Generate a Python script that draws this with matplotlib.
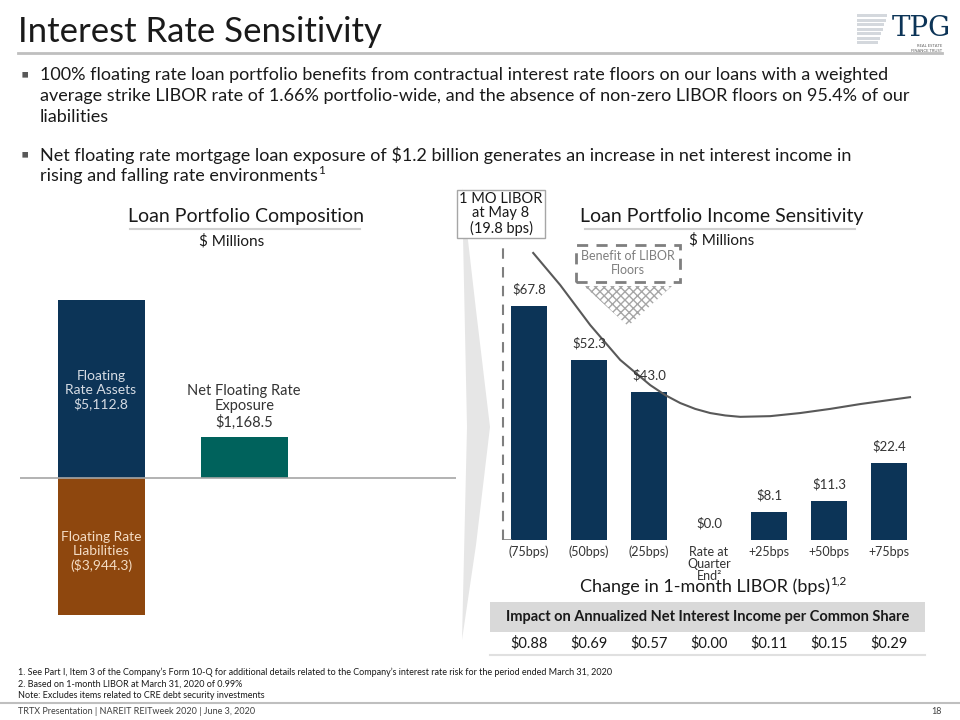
import numpy as np
import matplotlib.pyplot as plt
from matplotlib.patches import Rectangle, Polygon
from matplotlib.transforms import blended_transform_factory

plt.rcParams['font.family'] = ['Lato', 'DejaVu Sans']
plt.rcParams['hatch.color'] = "#a6a6a6"

# left chart data ($ millions)
comp_labels = ["Floating\nRate Assets\n$5,112.8", "Floating Rate\nLiabilities\n($3,944.3)",
               "Net Floating Rate\nExposure\n$1,168.5"]
assets = 5112.8
liabilities = -3944.3
net_exposure = 1168.5

# right chart data
rate_labels = ["(75bps)", "(50bps)", "(25bps)", "Rate at\nQuarter\nEnd\u00b2", "+25bps", "+50bps", "+75bps"]
income = [67.8, 52.3, 43.0, 0.0, 8.1, 11.3, 22.4]
income_labels = ["$67.8", "$52.3", "$43.0", "$0.0", "$8.1", "$11.3", "$22.4"]
per_share = ["$0.88", "$0.69", "$0.57", "$0.00", "$0.11", "$0.15", "$0.29"]

# curve (x in bar positions, y in $ millions)
curve_x = [0.07, 0.52, 1.02, 1.52, 2.02, 2.27, 2.52, 2.77, 3.02, 3.27, 3.52, 4.02, 4.52, 5.02, 5.52, 6.02, 6.35]
curve_y = [83.2, 73.9, 62.3, 52.2, 44.9, 42.0, 39.7, 38.0, 36.8, 36.1, 35.7, 35.9, 36.8, 38.0, 39.4, 40.6, 41.4]

navy = "#0c3457"
teal = "#00625c"
brown = "#8e470e"
gray_txt = "#333333"

fig = plt.figure(figsize=(9.6, 7.2), dpi=100)


def fx(px):
    return px / 960


def fy(py):
    return 1 - py / 720


# header
fig.text(fx(18), fy(32), "Interest Rate Sensitivity", fontsize=25, color="#1a1a1a", va="center")
fig.add_artist(plt.Line2D([fx(18), fx(942)], [fy(53), fy(53)], color="#bfbfbf", lw=2))

# logo
for i in range(7):
    w = 30 - i * 1.5
    fig.add_artist(Rectangle((fx(857), fy(14 + i * 4.5 + 3)), fx(w), 3 / 720, color="#d4d8dd", lw=0))
fig.text(fx(892), fy(36), "TPG", fontsize=20, family="DejaVu Serif", color=navy, va="baseline")
fig.text(fx(942), fy(46), "REAL ESTATE", fontsize=3, color="#606060", ha="right", va="center")
fig.text(fx(942), fy(50.5), "FINANCE TRUST", fontsize=3, color="#606060", ha="right", va="center")

# bullets
bullets = [
    (75, "100% floating rate loan portfolio benefits from contractual interest rate floors on our loans with a weighted"),
    (96, "average strike LIBOR rate of 1.66% portfolio-wide, and the absence of non-zero LIBOR floors on 95.4% of our"),
    (117, "liabilities"),
    (155, "Net floating rate mortgage loan exposure of \\$1.2 billion generates an increase in net interest income in"),
    (176, "rising and falling rate environments"),
]
for py, txt in bullets:
    t = fig.text(fx(40), fy(py), txt, fontsize=13, color="#1a1a1a", va="center")
for py in (75, 155):
    fig.text(fx(21), fy(py), "\u25aa", fontsize=15, color="#595959", va="center")

renderer = fig.canvas.get_renderer()
bb = t.get_window_extent(renderer)
fig.text(bb.x1 / 960, fy(170), "1", fontsize=8.5, color="#1a1a1a", va="center")

# section titles
fig.text(fx(246), fy(216), "Loan Portfolio Composition", fontsize=14, color="#1a1a1a", ha="center", va="center")
fig.add_artist(plt.Line2D([fx(130), fx(360)], [fy(229), fy(229)], color="#d0d0d0", lw=1.5))
fig.text(fx(232), fy(241), "$ Millions", fontsize=11, color="#1a1a1a", ha="center", va="center")
fig.text(fx(722), fy(216), "Loan Portfolio Income Sensitivity", fontsize=14, color="#1a1a1a", ha="center", va="center")
fig.add_artist(plt.Line2D([fx(585), fx(855)], [fy(229), fy(229)], color="#d0d0d0", lw=1.5))
fig.text(fx(722), fy(240), "$ Millions", fontsize=11, color="#1a1a1a", ha="center", va="center")

# funnel shading
fig.add_artist(Polygon([(fx(462), fy(188)), (fx(476), fy(310)), (fx(490), fy(427)), (fx(476), fy(545)),
                        (fx(462), fy(640)), (fx(467), fy(427))], closed=True, color="#e6e6e6", lw=0))

# left chart
ax1 = fig.add_axes([fx(20), fy(630), fx(436), (630 - 290) / 720])
scale = assets / 178
ax1.set_ylim(-(630 - 478) * scale, (478 - 290) * scale)
ax1.set_xlim(-0.566, 2.48)
ax1.bar([0], [assets], width=0.608, color=navy)
ax1.bar([0], [liabilities], width=0.608, color=brown)
ax1.bar([1], [net_exposure], width=0.608, color=teal)
ax1.axhline(0, color="#a6a6a6", lw=1.2)
ax1.text(0, 2525, comp_labels[0], ha="center", va="center", fontsize=10, color="#d6dce4", linespacing=1.2)
ax1.text(0, -2100, comp_labels[1], ha="center", va="center", fontsize=10, color="#f4dcc4", linespacing=1.2)
ax1.text(1, net_exposure + 200, comp_labels[2], ha="center", va="bottom", fontsize=10.5, color=gray_txt,
         linespacing=1.15)
ax1.axis("off")

# right chart
ax2 = fig.add_axes([fx(495), fy(540), fx(430), (540 - 240) / 720])
ax2.set_ylim(0, (540 - 240) / 3.45)
ax2.set_xlim(-0.567, 6.6)
x = np.arange(len(income))
ax2.bar(x, income, width=0.6, color=navy)
for xi, v, lab in zip(x, income, income_labels):
    ax2.text(xi, v + 3, lab, ha="center", va="bottom", fontsize=9.5, color=gray_txt)
ax2.plot(curve_x, curve_y, color="#595959", lw=1.5, solid_joinstyle="round")
ax2.plot([-0.43, -0.43], [0, 86], color="#7f7f7f", lw=1.5, ls=(0, (5, 4)))
ax2.plot([-0.43, -0.3], [0, 0], color="#7f7f7f", lw=1.2)
ax2.set_xticks(x)
ax2.set_xticklabels(rate_labels, fontsize=9, color=gray_txt, va="top", linespacing=1.0)
ax2.tick_params(length=0, pad=4)
ax2.set_yticks([])
for s in ax2.spines.values():
    s.set_visible(False)

ct = fig.text(fx(705), fy(587), "Change in 1-month LIBOR (bps)", fontsize=13, color="#1a1a1a",
              ha="center", va="center")
bb = ct.get_window_extent(renderer)
fig.text(bb.x1 / 960, fy(581), "1,2", fontsize=8.5, color="#1a1a1a", va="center")

# LIBOR box
fig.text(fx(501), fy(214), "1 MO LIBOR\nat May 8\n(19.8 bps)", fontsize=10.5, color="#1a1a1a", ha="center",
         va="center", linespacing=1.05,
         bbox=dict(boxstyle="square,pad=0.15", fc="white", ec="#a6a6a6", lw=1))

# benefit of floors box + triangle
fig.add_artist(Rectangle((fx(576), fy(282)), fx(104), 37 / 720, fill=False, ec="#7f7f7f", lw=2,
                         ls=(0, (4, 3))))
fig.text(fx(628), fy(263), "Benefit of LIBOR\nFloors", fontsize=9, color="#7f7f7f", ha="center",
         va="center", linespacing=1.1)
fig.add_artist(Polygon([(fx(584), fy(286)), (fx(672), fy(286)), (fx(628), fy(326))], closed=True,
                       fc="white", ec="#a6a6a6", lw=0, hatch="xxxx"))

# table
fig.add_artist(Rectangle((fx(490), fy(632)), fx(435), 30 / 720, color="#d9d9d9", lw=0))
fig.text(fx(708), fy(617), "Impact on Annualized Net Interest Income per Common Share", fontsize=10.5,
         weight="bold", color="#1a1a1a", ha="center", va="center")
fig.add_artist(plt.Line2D([fx(490), fx(925)], [fy(655), fy(655)], color="#e0e0e0", lw=1.5))
tr = blended_transform_factory(ax2.transData, fig.transFigure)
for xi, s in zip(x, per_share):
    ax2.text(xi, fy(643), s, transform=tr, ha="center", va="center", fontsize=10.5, color="#1a1a1a")

# footnotes
notes = ["1. See Part I, Item 3 of the Company\u2019s Form 10-Q for additional details related to the Company\u2019s interest rate risk for the period ended March 31, 2020",
         "2. Based on 1-month LIBOR at March 31, 2020 of 0.99%",
         "Note: Excludes items related to CRE debt security investments"]
for i, n in enumerate(notes):
    fig.text(fx(18), fy(672 + i * 12), n, fontsize=6.5, color="#1a1a1a", va="center")
fig.add_artist(plt.Line2D([fx(0), fx(960)], [fy(703), fy(703)], color="#bfbfbf", lw=1.5))
fig.text(fx(18), fy(712), "TRTX Presentation | NAREIT REITweek 2020 | June 3, 2020", fontsize=6.5,
         color="#404040", va="center")
fig.text(fx(942), fy(712), "18", fontsize=6.5, color="#404040", va="center", ha="right")

fig.savefig("out.png", dpi=100)
